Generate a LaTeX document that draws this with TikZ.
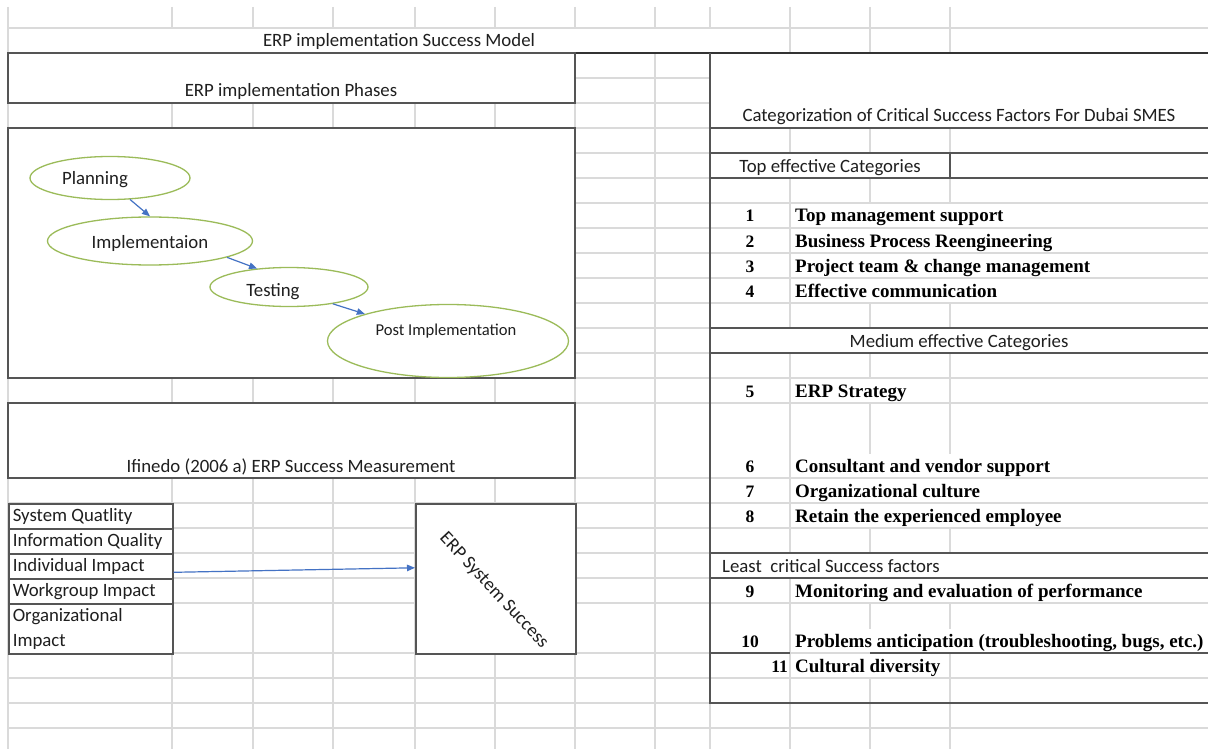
\documentclass[tikz,border=0pt]{standalone}
\usepackage{fontspec}
\setmainfont{Carlito}
\newfontfamily\factorfont{Liberation Serif}
\usetikzlibrary{arrows.meta,shapes.geometric}

\definecolor{gridgray}{RGB}{218,218,218}
\definecolor{bordergray}{RGB}{85,85,85}
\definecolor{phasegreen}{RGB}{155,187,89}
\definecolor{flowblue}{RGB}{68,114,196}

\begin{document}
\begin{tikzpicture}[x=1pt, y=-1pt,
  gridline/.style={draw=gridgray, line width=1.1pt},
  border/.style={draw=bordergray, line width=1.6pt},
  heavyborder/.style={draw=black!80, line width=2.2pt},
  txt/.style={inner sep=0pt, anchor=base, text=black!88, font=\fontsize{18.8}{25}\selectfont},
  factor/.style={txt, anchor=base west, text=black, fill=white, text height=18pt, text depth=5pt, font=\factorfont\bfseries\fontsize{19}{25}\selectfont},
  rank/.style={txt, text=black, font=\factorfont\bfseries\fontsize{17.5}{25}\selectfont},
  rowcell/.style={draw=bordergray, line width=1.6pt, anchor=north west, minimum height=25pt, text width=156pt, inner xsep=4pt, inner ysep=0pt, align=flush left, text=black!88, font=\fontsize{18.8}{25}\selectfont},
  phase/.style={ellipse, draw=phasegreen, line width=1.3pt, inner sep=0pt},
  flow/.style={draw=flowblue, line width=1.2pt, -{Triangle[length=8pt,width=6.5pt]}}]

\useasboundingbox (0,0) rectangle (1208,749);
\fill[white] (0,0) rectangle (1208,749);

% sheet grid
\foreach \x in {8,172,253,333,415,495,575,655,710,790,870,950}
  \draw[gridline] (\x,7) -- (\x,749);
\foreach \y in {28,53,78,103,128,153,178,203,228,253,278,303,328,353,378,403,478,503,528,553,578,603,653,678,703,728}
  \draw[gridline] (8,\y) -- (1208,\y);

% merged cells
\fill[white] (8.6,28.6) rectangle (789.4,52);
\foreach \xa/\ya/\xb/\yb in {8/53/575/103, 8/128/575/378, 8/403/575/478, 8/503/172/653, 415/503/575/653, 710/53/1208/128, 710/153/1208/178, 710/328/1208/353, 710/553/1208/578}
  \fill[white] (\xa,\ya) rectangle (\xb,\yb);

% left column boxes
\draw[heavyborder] (8,53) -- (1208,53);
\draw[border] (8,53) rectangle (575,103);
\draw[border] (8,128) rectangle (575,378);
\draw[border] (8,403) rectangle (575,478);

\node[txt] (title) at (399,47) {ERP implementation Success Model};
\node[txt] (phasestitle) at (291,97) {ERP implementation Phases};
\node[txt] (ifinedo) at (291,472) {Ifinedo (2006 a) ERP Success Measurement};

% implementation phases
\node[phase, minimum width=160pt, minimum height=43pt] (plan) at (110,178) {};
\node[phase, minimum width=205pt, minimum height=48pt] (impl) at (150,241) {};
\node[phase, minimum width=158pt, minimum height=39pt] (test) at (289,287) {};
\node[phase, minimum width=241pt, minimum height=73pt] (post) at (448,341) {};
\node[txt] (plantext) at ([xshift=-15pt,yshift=-7pt]plan.center) {Planning};
\node[txt] (impltext) at ([yshift=-7pt]impl.center) {Implementaion};
\node[txt] (testtext) at ([xshift=-16pt,yshift=-9pt]test.center) {Testing};
\node[txt, font=\fontsize{16.6}{20}\selectfont] (posttext) at ([xshift=-2pt,yshift=6pt]post.center) {Post Implementation};

\draw[flow] (plan.-47) -- (impl.north);
\draw[flow] (impl.-12) -- (test.150);
\draw[flow] (test.-21) -- (post.162);

% success measurement
\node[rowcell] (sysq) at (8,503) {System Quatlity};
\node[rowcell] (infoq) at (8,528) {Information Quality};
\node[rowcell] (indiv) at (8,553) {Individual Impact};
\node[rowcell] (workg) at (8,578) {Workgroup Impact};
\node[rowcell, minimum height=50pt] (orgimp) at (8,603) {Organizational\\Impact};
\node[draw=bordergray, line width=1.6pt, anchor=north west, minimum width=160pt, minimum height=150pt, inner sep=0pt] (erp) at (415,503) {};
\node[txt, anchor=center, rotate=-47] (erptext) at ([xshift=-2pt,yshift=-12pt]erp.center) {ERP System Success};

\draw[flow] ([yshift=-6pt]indiv.east) -- ([yshift=11pt]erp.west);

% critical success factors
\node[txt] (csf) at (959,122) {Categorization of Critical Success Factors For Dubai SMES};
\node[txt] (topcat) at (830,172) {Top effective Categories};
\node[txt] (midcat) at (959,347) {Medium effective Categories};
\node[txt, anchor=base west] (leastcat) at (722,572) {Least\ \ critical Success factors};

\foreach \n/\factor/\y in {1/Top management support/222, 2/Business Process Reengineering/247, 3/Project team \& change management/272, 4/Effective communication/297, 5/ERP Strategy/397, 6/Consultant and vendor support/472, 7/Organizational culture/497, 8/Retain the experienced employee/522, 9/Monitoring and evaluation of performance/597, 10/{Problems anticipation (troubleshooting, bugs, etc.)}/647}
{
  \node[rank] (rank\n) at (750,\y) {\n};
  \node[factor] (factor\n) at (795,\y) {\factor};
}
\node[rank, anchor=base east] (rank11) at (788,672) {11};
\node[factor] (factor11) at (795,672) {Cultural diversity};

\draw[border] (710,53) -- (710,703) -- (1208,703);
\foreach \y in {128,153,178,328,353,553,578}
  \draw[border] (710,\y) -- (1208,\y);
\draw[border] (950,153) -- (950,178);
\draw[border] (710,653) -- (790,653) (870,653) -- (1208,653);

\end{tikzpicture}
\end{document}
